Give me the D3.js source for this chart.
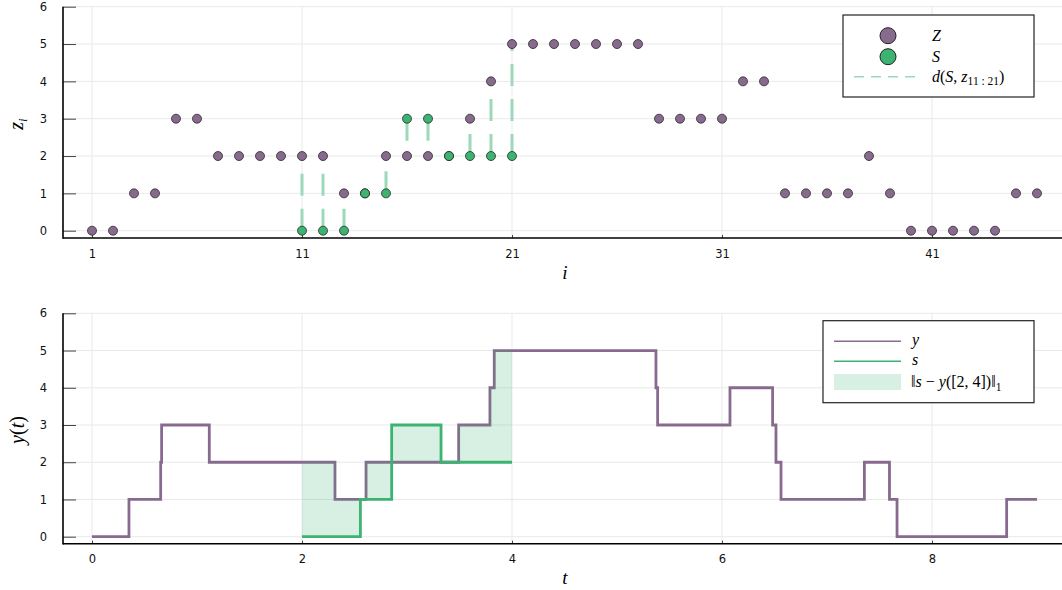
<!DOCTYPE html>
<html><head><meta charset="utf-8">
<script src="https://cdn.jsdelivr.net/npm/d3@7"></script>
<style>
body{margin:0;background:#fff}
svg text{font-family:"DejaVu Sans",sans-serif}
.math{font-family:"Liberation Serif","DejaVu Serif",serif}
.it{font-style:italic}
</style></head><body><svg id="chart" width="1062" height="590"></svg>
<script>
// sampled sequence z_i (i = 1..46, one sample every 0.2 in t)
const zIndex = d3.range(1, 47);
const zValues = [0,0,1,1,3,3,2,2,2,2,2,2,1,1,2,2,2,2,3,4,5,5,5,5,5,5,5,3,3,3,3,4,4,1,1,1,1,2,1,0,0,0,0,0,1,1];
// candidate segment S, aligned with z_11 .. z_21
const sIndex = d3.range(11, 22);
const sValues = [0,0,0,1,1,3,3,2,2,2,2];
// continuous-time path y(t): jump times and the level held until the next jump
const yTimes  = [0,0.352,0.654,0.663,1.117,2.314,2.610,3.492,3.790,3.831,5.371,5.387,6.076,6.482,6.514,6.562,7.356,7.595,7.667,8.711];
const yLevels = [0,1,2,3,2,1,2,3,4,5,4,3,4,3,2,1,2,1,0,1];
const yEnd = 9;
// step segment s(t) on [2, 4]
const sTimes  = [2,2.556,2.854,3.324];
const sLevels = [0,1,3,2];
const sEnd = 4;
// axis ticks
const iTicks = [1,11,21,31,41];
const tTicks = [0,2,4,6,8];
const valueTicks = [0,1,2,3,4,5,6];

const purple = "#876a8e", green = "#3cb371", greenLight = "#9dd9b8", fillGreen = "rgba(60,179,113,0.2)";
const svg = d3.select("#chart");
const W = 1062, left = 63;

function stepAt(times, levels, t){
  let k = 0;
  for (let j = 0; j < times.length; j++) if (times[j] <= t) k = j;
  return levels[k];
}
function stepPoints(times, levels, end){
  const p = times.map((t, j) => [t, levels[j]]);
  p.push([end, levels[levels.length - 1]]);
  return p;
}

function frame(g, x, y, top, bottom, xt, yt, xtSize, labelSpacing){
  // grid
  g.append("g").selectAll("line").data(yt).join("line")
    .attr("x1", left).attr("x2", W).attr("y1", d => y(d)).attr("y2", d => y(d))
    .attr("stroke", "#e9e9e9").attr("stroke-width", 1);
  g.append("g").selectAll("line").data(xt).join("line")
    .attr("x1", d => x(d)).attr("x2", d => x(d)).attr("y1", top).attr("y2", bottom)
    .attr("stroke", "#e9e9e9").attr("stroke-width", 1);
  // axes
  const ay = g.append("g").attr("transform", `translate(${left},0)`)
    .call(d3.axisLeft(y).tickValues(yt).tickFormat(d3.format("d")).tickSize(-13).tickPadding(16));
  const ax = g.append("g").attr("transform", `translate(0,${bottom})`)
    .call(d3.axisBottom(x).tickValues(xt).tickFormat(d3.format("d")).tickSize(-xtSize).tickPadding(labelSpacing));
  [ay, ax].forEach(a => {
    a.select(".domain").remove();
    a.selectAll(".tick line").attr("stroke", "#444").attr("stroke-width", 1);
    a.selectAll(".tick text").attr("font-size", 11.5).attr("fill", "#111");
  });
  g.append("line").attr("x1", left).attr("x2", left).attr("y1", top).attr("y2", bottom + 0.8)
    .attr("stroke", "#000").attr("stroke-width", 1.6);
  g.append("line").attr("x1", left).attr("x2", W).attr("y1", bottom).attr("y2", bottom)
    .attr("stroke", "#000").attr("stroke-width", 1.6);
}

// ---------- top panel: sequence z_i and segment S ----------
const top1 = 6.7, bot1 = 238;
const xi = d3.scaleLinear().domain([1, 41]).range([92, 932]);
const yz = d3.scaleLinear().domain([0, 6]).range([230.7, 6.7]);
const g1 = svg.append("g");
frame(g1, xi, yz, top1, bot1, iTicks, valueTicks, 3, 12);

// distance segments between S and z
g1.append("g").selectAll("line").data(sIndex).join("line")
  .attr("x1", d => xi(d)).attr("x2", d => xi(d))
  .attr("y1", (d, j) => yz(sValues[j])).attr("y2", d => yz(zValues[d - 1]))
  .attr("stroke", greenLight).attr("stroke-width", 3).attr("stroke-dasharray", "22,13");

g1.append("g").selectAll("circle").data(zIndex).join("circle")
  .attr("cx", d => xi(d)).attr("cy", (d, j) => yz(zValues[j])).attr("r", 4.5)
  .attr("fill", purple).attr("stroke", "#2a2a2a").attr("stroke-width", 0.8);
g1.append("g").selectAll("circle").data(sIndex).join("circle")
  .attr("cx", d => xi(d)).attr("cy", (d, j) => yz(sValues[j])).attr("r", 4.5)
  .attr("fill", green).attr("stroke", "#2a2a2a").attr("stroke-width", 0.8);

g1.append("text").attr("class", "math it").attr("x", 565).attr("y", 279)
  .attr("text-anchor", "middle").attr("font-size", 19).text("i");
const zl = g1.append("text").attr("class", "math").attr("transform", "translate(23,124) rotate(-90)")
  .attr("text-anchor", "middle").attr("font-size", 20);
zl.append("tspan").attr("class", "it").text("z");
zl.append("tspan").attr("class", "it").attr("font-size", 13).attr("dy", 4).text("i");

// legend
const l1 = g1.append("g");
l1.append("rect").attr("x", 843).attr("y", 15).attr("width", 191).attr("height", 82)
  .attr("fill", "#fff").attr("stroke", "#222").attr("stroke-width", 1.2);
l1.append("circle").attr("cx", 888).attr("cy", 35.7).attr("r", 8).attr("fill", purple).attr("stroke", "#222").attr("stroke-width", 1);
l1.append("circle").attr("cx", 888).attr("cy", 56.7).attr("r", 8).attr("fill", green).attr("stroke", "#222").attr("stroke-width", 1);
l1.append("line").attr("x1", 854).attr("x2", 920).attr("y1", 76.7).attr("y2", 76.7)
  .attr("stroke", greenLight).attr("stroke-width", 1.6).attr("stroke-dasharray", "10,7");
l1.append("text").attr("class", "math it").attr("x", 932).attr("y", 41).attr("font-size", 16).text("Z");
l1.append("text").attr("class", "math it").attr("x", 932).attr("y", 62).attr("font-size", 16).text("S");
const dl = l1.append("text").attr("class", "math").attr("x", 932).attr("y", 82).attr("font-size", 16);
dl.append("tspan").attr("class", "it").text("d");
dl.append("tspan").text("(");
dl.append("tspan").attr("class", "it").text("S");
dl.append("tspan").text(", ");
dl.append("tspan").attr("class", "it").text("z");
dl.append("tspan").attr("font-size", 11.5).attr("dy", 3).text("11 : 21");
dl.append("tspan").attr("dy", -3).text(")");

// ---------- bottom panel: path y(t) and segment s(t) ----------
const top2 = 313.3, bot2 = 543.7;
const xt = d3.scaleLinear().domain([0, 8]).range([92, 932]);
const yt = d3.scaleLinear().domain([0, 6]).range([536.7, 313.3]);
const g2 = svg.append("g");
frame(g2, xt, yt, top2, bot2, tTicks, valueTicks, 3, 11.5);

const stepLine = d3.line().x(d => xt(d[0])).y(d => yt(d[1])).curve(d3.curveStepAfter);
g2.append("path").attr("d", stepLine(stepPoints(yTimes, yLevels, yEnd)))
  .attr("fill", "none").attr("stroke", purple).attr("stroke-width", 2.8);
g2.append("path").attr("d", stepLine(stepPoints(sTimes, sLevels, sEnd)))
  .attr("fill", "none").attr("stroke", green).attr("stroke-width", 2.8);

// area between s and y over the segment's window
const breaks = Array.from(new Set(sTimes.concat(yTimes.filter(t => t > sTimes[0] && t < sEnd), [sEnd]))).sort((a, b) => a - b);
const between = d3.area().x(t => xt(t))
  .y0(t => yt(stepAt(sTimes, sLevels, t)))
  .y1(t => yt(stepAt(yTimes, yLevels, t)))
  .curve(d3.curveStepAfter);
g2.append("path").attr("d", between(breaks)).attr("fill", fillGreen);

g2.append("text").attr("class", "math it").attr("x", 565).attr("y", 584)
  .attr("text-anchor", "middle").attr("font-size", 19).text("t");
const yl = g2.append("text").attr("class", "math").attr("transform", "translate(24,430) rotate(-90)")
  .attr("text-anchor", "middle").attr("font-size", 20);
yl.append("tspan").attr("class", "it").text("y");
yl.append("tspan").text("(");
yl.append("tspan").attr("class", "it").text("t");
yl.append("tspan").text(")");

// legend
const l2 = g2.append("g");
l2.append("rect").attr("x", 823).attr("y", 320.7).attr("width", 211).attr("height", 82)
  .attr("fill", "#fff").attr("stroke", "#222").attr("stroke-width", 1.2);
l2.append("line").attr("x1", 834).attr("x2", 901).attr("y1", 341.3).attr("y2", 341.3).attr("stroke", purple).attr("stroke-width", 1.6);
l2.append("line").attr("x1", 834).attr("x2", 901).attr("y1", 361.3).attr("y2", 361.3).attr("stroke", green).attr("stroke-width", 1.6);
l2.append("rect").attr("x", 834).attr("y", 374).attr("width", 67).attr("height", 16).attr("fill", fillGreen);
l2.append("text").attr("class", "math it").attr("x", 912).attr("y", 345).attr("font-size", 16).text("y");
l2.append("text").attr("class", "math it").attr("x", 912).attr("y", 365).attr("font-size", 16).text("s");
const nl = l2.append("text").attr("class", "math").attr("x", 911).attr("y", 387).attr("font-size", 16);
nl.append("tspan").text("\u2016");
nl.append("tspan").attr("class", "it").text("s");
nl.append("tspan").text(" \u2212 ");
nl.append("tspan").attr("class", "it").text("y");
nl.append("tspan").text("([2, 4])\u2016");
nl.append("tspan").attr("font-size", 11.5).attr("dy", 4).text("1");
</script></body></html>
